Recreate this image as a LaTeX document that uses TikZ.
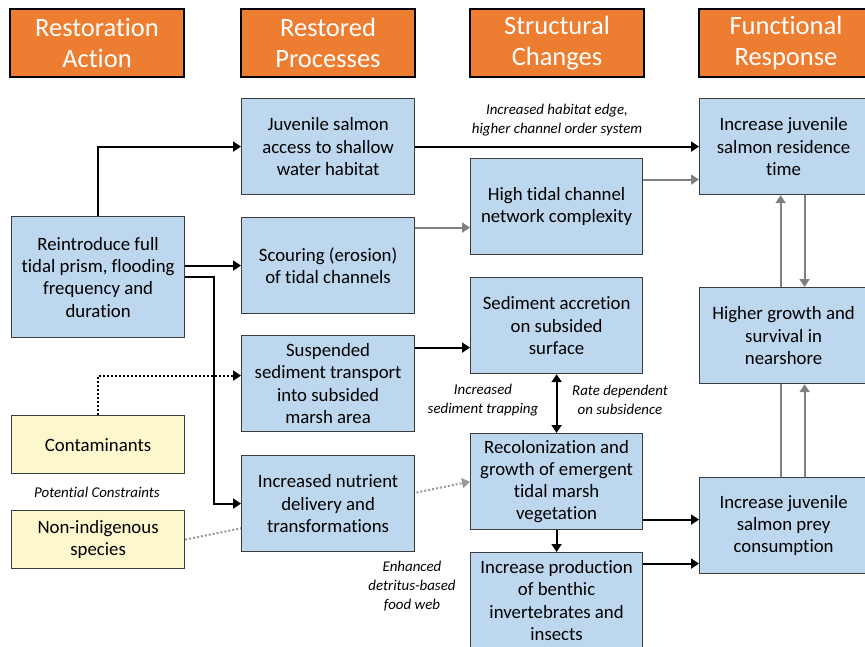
\documentclass[tikz,border=0pt]{standalone}
\usepackage{fontspec}
\setmainfont[Ligatures=NoCommon]{Carlito}
\usetikzlibrary{arrows.meta,backgrounds}
\definecolor{hdrorange}{RGB}{237,125,49}
\definecolor{procblue}{RGB}{189,215,238}
\definecolor{constyellow}{RGB}{252,247,205}
\definecolor{boxedge}{RGB}{60,60,60}
\definecolor{linkgray}{RGB}{128,128,128}
\tikzset{
  header/.style={draw=black, line width=2pt, fill=hdrorange, text=white,
    minimum width=174pt, minimum height=68pt, inner sep=0pt, anchor=north west,
    align=center, font=\fontsize{26.5}{31}\selectfont},
  stagebox/.style={draw=boxedge, line width=1.2pt, fill=procblue,
    minimum width=173pt, minimum height=96pt, inner sep=0pt, anchor=north west,
    align=center, font=\fontsize{18.8}{22.3}\selectfont},
  constbox/.style={stagebox, fill=constyellow, minimum height=58pt},
  note/.style={align=center, font=\fontsize{14.9}{19}\selectfont\itshape, inner sep=0pt},
  link/.style={line width=2pt, draw=black, -{Triangle[length=8pt,width=10pt]}},
  graylink/.style={line width=2pt, draw=linkgray, -{Triangle[length=8pt,width=10pt]}},
  grayplain/.style={line width=2pt, draw=linkgray},
  dotlink/.style={line width=2pt, dash pattern=on 2pt off 2pt, draw=black,
    -{Triangle[length=8pt,width=10pt]}},
  graydot/.style={line width=2pt, dash pattern=on 2pt off 2pt, draw=linkgray!80,
    -{Triangle[length=8pt,width=10pt]}},
}
\begin{document}
\begin{tikzpicture}[x=1pt,y=-1pt]
\useasboundingbox (0,0) rectangle (865,647);

% column headers
\node[header] (h1) at (9,8)   {Restoration\\Action};
\node[header] (h2) at (240,8) {Restored\\Processes};
\node[header] (h3) at (469,8) {Structural\\Changes};
\node[header] (h4) at (698,8) {Functional\\Response};

% restoration action and constraints
\node[stagebox, minimum height=121pt] (reint) at (11,216)
  {Reintroduce full\\tidal prism, flooding\\frequency and\\duration};
\node[constbox] (contam) at (11,415) {Contaminants};
\node[constbox] (nonind) at (11,510) {Non-indigenous\\species};
\node[note] (constr) at (97,492) {Potential Constraints};

% restored processes
\node[stagebox] (access) at (241,98)  {Juvenile salmon\\access to shallow\\water habitat};
\node[stagebox] (scour)  at (241,217) {Scouring (erosion)\\of tidal channels};
\node[stagebox] (susp)   at (241,335) {Suspended\\sediment transport\\into subsided\\marsh area};
\node[stagebox] (nutr)   at (241,455) {Increased nutrient\\delivery and\\transformations};

% structural changes
\node[stagebox, minimum width=172pt] (chan)  at (470,158) {High tidal channel\\network complexity};
\node[stagebox, minimum width=172pt] (accr)  at (470,277) {Sediment accretion\\on subsided\\surface};
\node[stagebox, minimum width=172pt] (recol) at (470,433) {Recolonization and\\growth of emergent\\tidal marsh\\vegetation};
\node[stagebox, minimum width=172pt] (prod)  at (470,552) {Increase production\\of benthic\\invertebrates and\\insects};

% functional response
\node[stagebox, minimum width=168pt] (resid) at (699,98)  {Increase juvenile\\salmon residence\\time};
\node[stagebox, minimum width=168pt] (grow)  at (699,287) {Higher growth and\\survival in\\nearshore};
\node[stagebox, minimum width=168pt] (prey)  at (699,477) {Increase juvenile\\salmon prey\\consumption};

% link labels
\node[note] (edge)  at (557,120) {Increased habitat edge,\\higher channel order system};
\node[note] (trap)  at (483,400) {Increased\\sediment trapping};
\node[note] (rate)  at (620,400) {Rate dependent\\on subsidence};
\node[note] (detr)  at (412,586) {Enhanced\\detritus-based\\food web};

% links from the restoration action
\draw[link] (reint.north) |- (access.west);
\draw[link] (reint.east |- scour.west) -- (scour.west);
\draw[link] (reint.east) -- ++(29,0) |- (nutr.west);
\draw[dotlink] (contam.north) |- ([yshift=8pt]susp.west);

% links between processes, structure and response
\draw[link] (access.east) -- (access.east -| resid.west);
\draw[graylink] ([yshift=38pt]scour.east) -- ([yshift=38pt]scour.east -| chan.west);
\draw[graylink] ([yshift=27pt]chan.east) -- ([yshift=27pt]chan.east -| resid.west);
\draw[link] ([yshift=36pt]susp.east) -- ([yshift=36pt]susp.east -| accr.west);
\draw[line width=2pt, {Triangle[length=8pt,width=10pt]}-{Triangle[length=8pt,width=10pt]}]
  (accr.south) -- (recol.north);
\draw[link] (recol.south) -- (prod.north);
\draw[link] ([yshift=-38pt]recol.east) -- ([yshift=-38pt]recol.east -| prey.west);
\draw[link] ([yshift=37pt]prod.east) -- ([yshift=37pt]prod.east -| prey.west);

% feedbacks among responses
\draw[graylink] ([xshift=-3pt]grow.north) -- ([xshift=-3pt]resid.south);
\draw[graylink] ([xshift=21pt]resid.south) -- ([xshift=21pt]grow.north);
\draw[grayplain] ([xshift=-3pt]prey.north) -- ([xshift=-3pt]grow.south);
\draw[graylink] ([xshift=21pt]prey.north) -- ([xshift=21pt]grow.south);

% non-indigenous species constraint, passing behind the nutrient box
\begin{scope}[on background layer]
\fill[white] (0,0) rectangle (865,647);
\draw[graydot] (nonind.east) -- (recol.west);
\end{scope}
\end{tikzpicture}
\end{document}
